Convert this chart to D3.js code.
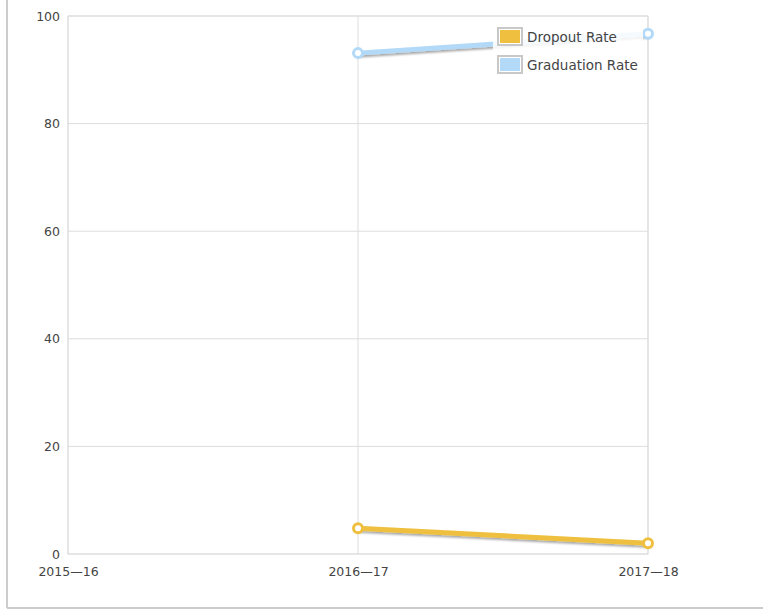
<!DOCTYPE html>
<html>
<head>
<meta charset="utf-8">
<script src="https://cdn.jsdelivr.net/npm/d3@7"></script>
<style>
  body { margin: 0; background: #fff; }
  text { font-family: "DejaVu Sans", Verdana, sans-serif; font-size: 12px; fill: #444; }
</style>
</head>
<body>
<div id="chart"></div>
<script>
// chart data
const years = ['2015\u201416', '2016\u201417', '2017\u201418'];
const dropoutRate = [null, 4.8, 2.0];
const graduationRate = [null, 93.1, 96.7];
const yTicks = [0, 20, 40, 60, 80, 100];
const seriesNames = ['Dropout Rate', 'Graduation Rate'];
const seriesColors = ['#efc03f', '#b2d9f7'];

const W = 763, H = 613;
const margin = { top: 16, right: 115, bottom: 59, left: 68 };
const width = W - margin.left - margin.right;
const height = H - margin.top - margin.bottom;

const svg = d3.select('#chart').append('svg')
  .attr('width', W)
  .attr('height', H);

// drop shadow for lines
const defs = svg.append('defs');
const f = defs.append('filter').attr('id', 'shadow')
  .attr('x', '-10%').attr('y', '-50%').attr('width', '120%').attr('height', '200%');
f.append('feDropShadow').attr('dx', 1).attr('dy', 2).attr('stdDeviation', 1.2)
  .attr('flood-color', '#000').attr('flood-opacity', 0.35);

// outer frame (left + bottom)
svg.append('line').attr('x1', 7).attr('x2', 7).attr('y1', 0).attr('y2', 608)
  .attr('stroke', '#ccc').attr('stroke-width', 2);
svg.append('line').attr('x1', 7).attr('x2', W).attr('y1', 608).attr('y2', 608)
  .attr('stroke', '#ccc').attr('stroke-width', 2);

const g = svg.append('g').attr('transform', `translate(${margin.left},${margin.top})`);

const x = d3.scalePoint().domain(years).range([0, width]);
const y = d3.scaleLinear().domain([0, 100]).range([height, 0]);

// grid
g.append('g').selectAll('line').data(yTicks).enter().append('line')
  .attr('x1', 0).attr('x2', width)
  .attr('y1', d => y(d)).attr('y2', d => y(d))
  .attr('stroke', '#ddd');
g.append('g').selectAll('line').data(years).enter().append('line')
  .attr('x1', d => x(d)).attr('x2', d => x(d))
  .attr('y1', 0).attr('y2', height)
  .attr('stroke', '#ddd');

// axes labels
const yAxis = g.append('g').call(d3.axisLeft(y).tickValues(yTicks).tickSize(0).tickPadding(8));
yAxis.select('.domain').remove();
yAxis.selectAll('text').attr('fill', '#444').style('font-size', '12.5px');

const xAxis = g.append('g').attr('transform', `translate(0,${height})`)
  .call(d3.axisBottom(x).tickSize(0).tickPadding(13));
xAxis.select('.domain').remove();
xAxis.selectAll('text').attr('fill', '#444').style('font-size', '12.5px');

// plot border
g.append('rect').attr('width', width).attr('height', height)
  .attr('fill', 'none').attr('stroke', '#ddd');

const series = [dropoutRate, graduationRate].map((vals, i) => ({
  name: seriesNames[i],
  color: seriesColors[i],
  values: years.map((yr, j) => ({ year: yr, value: vals[j] }))
}));

const line = d3.line()
  .defined(d => d.value !== null)
  .x(d => x(d.year))
  .y(d => y(d.value));

series.forEach(s => {
  g.append('path').datum(s.values)
    .attr('d', line)
    .attr('fill', 'none')
    .attr('stroke', s.color)
    .attr('stroke-width', 5)
    .attr('stroke-linecap', 'round')
    .attr('filter', 'url(#shadow)');
  g.selectAll(null).data(s.values.filter(d => d.value !== null)).enter().append('circle')
    .attr('cx', d => x(d.year))
    .attr('cy', d => y(d.value))
    .attr('r', 4.5)
    .attr('fill', '#fff')
    .attr('stroke', s.color)
    .attr('stroke-width', 3);
});

// legend
const legend = svg.append('g').attr('transform', 'translate(493,22)');
legend.append('rect').attr('width', 150).attr('height', 58)
  .attr('fill', '#fff').attr('opacity', 0.85);
series.forEach((s, i) => {
  const row = legend.append('g').attr('transform', `translate(4,${5 + i * 28})`);
  row.append('rect').attr('x', 1).attr('y', 1).attr('width', 24).attr('height', 17)
    .attr('fill', '#fff').attr('stroke', '#c8c8c8').attr('stroke-width', 2);
  row.append('rect').attr('x', 3).attr('y', 3).attr('width', 20).attr('height', 13)
    .attr('fill', s.color);
  row.append('text').attr('x', 30).attr('y', 14.5)
    .style('font-size', '13.5px').text(s.name);
});
</script>
</body>
</html>
